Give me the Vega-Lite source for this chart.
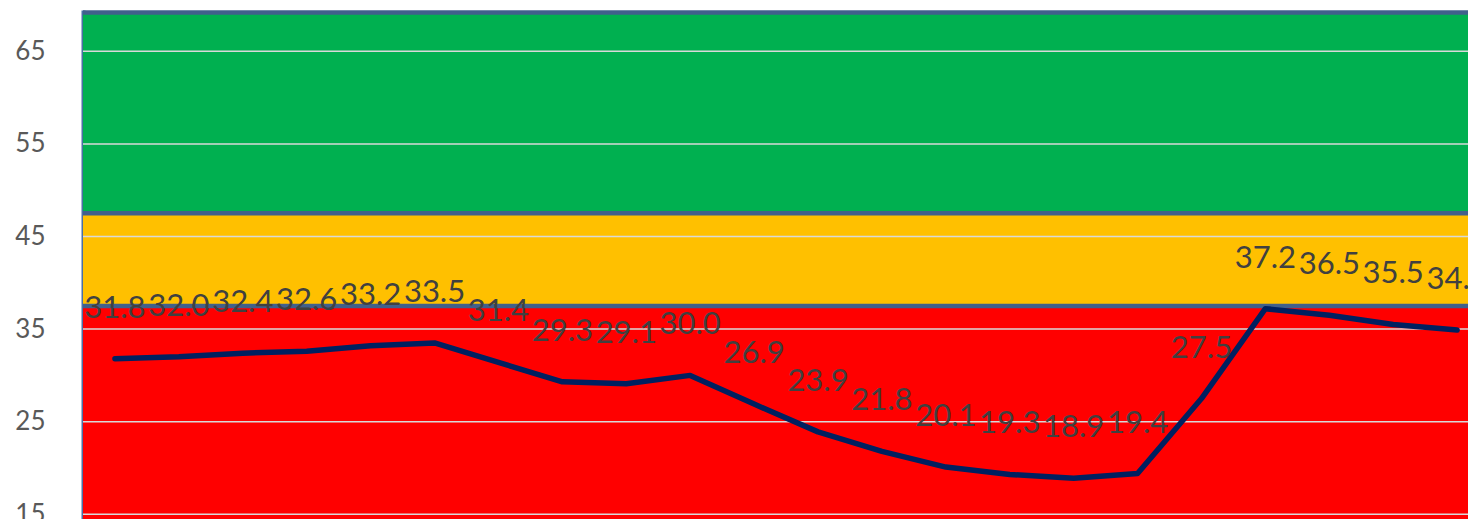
{
  "$schema": "https://vega.github.io/schema/vega-lite/v6.json",
  "width": 1385,
  "height": 509,
  "autosize": {"type": "none"},
  "padding": {"left": 83, "top": 10, "right": 0, "bottom": 0},
  "background": "white",
  "config": {"view": {"stroke": null}},
  "datasets": {
    "series": [
      {"i": 1, "v": 31.8}, {"i": 2, "v": 32.0}, {"i": 3, "v": 32.4}, {"i": 4, "v": 32.6},
      {"i": 5, "v": 33.2}, {"i": 6, "v": 33.5}, {"i": 7, "v": 31.4}, {"i": 8, "v": 29.3},
      {"i": 9, "v": 29.1}, {"i": 10, "v": 30.0}, {"i": 11, "v": 26.9}, {"i": 12, "v": 23.9},
      {"i": 13, "v": 21.8}, {"i": 14, "v": 20.1}, {"i": 15, "v": 19.3}, {"i": 16, "v": 18.9},
      {"i": 17, "v": 19.4}, {"i": 18, "v": 27.5}, {"i": 19, "v": 37.2}, {"i": 20, "v": 36.5},
      {"i": 21, "v": 35.5}, {"i": 22, "v": 34.9}
    ],
    "bands": [
      {"band": "Low", "lo": 0, "hi": 37.5},
      {"band": "Mid", "lo": 37.5, "hi": 47.5},
      {"band": "High", "lo": 47.5, "hi": 69.2}
    ],
    "grid": [{"g": 15}, {"g": 25}, {"g": 35}, {"g": 45}, {"g": 55}, {"g": 65}]
  },
  "layer": [
    {
      "data": {"name": "bands"},
      "mark": {"type": "rect", "clip": true},
      "encoding": {
        "y": {"field": "lo", "type": "quantitative",
              "scale": {"domain": [14.49, 69.46], "nice": false, "zero": false},
              "axis": {"values": [15, 25, 35, 45, 55, 65], "grid": false, "ticks": false, "tickSize": 0,
                       "domain": true, "domainColor": "#4A6FA5", "domainWidth": 4,
                       "labelFont": "Lato", "labelFontSize": 26, "labelColor": "#595959",
                       "labelPadding": 38, "title": null}},
        "y2": {"field": "hi"},
        "color": {"field": "band", "type": "nominal",
                  "scale": {"domain": ["Low", "Mid", "High"], "range": ["#FF0000", "#FFC000", "#00B050"]},
                  "legend": null}
      }
    },
    {
      "data": {"name": "grid"},
      "mark": {"type": "rule", "color": "#D9D9D9", "strokeWidth": 1.5},
      "encoding": {"y": {"field": "g", "type": "quantitative"}}
    },
    {
      "data": {"name": "bands"},
      "mark": {"type": "rule", "color": "#41608C", "strokeWidth": 4.5},
      "encoding": {"y": {"field": "hi", "type": "quantitative"}}
    },
    {
      "data": {"name": "series"},
      "mark": {"type": "line", "color": "#002060", "strokeWidth": 5.5, "strokeJoin": "round", "strokeCap": "round"},
      "encoding": {
        "x": {"field": "i", "type": "quantitative", "scale": {"domain": [0.5, 22.17], "nice": false, "zero": false}, "axis": null},
        "y": {"field": "v", "type": "quantitative"}
      }
    },
    {
      "data": {"name": "series"},
      "mark": {"type": "text", "font": "Lato", "fontSize": 31, "color": "#404040", "baseline": "middle", "align": "center", "dy": -50},
      "encoding": {
        "x": {"field": "i", "type": "quantitative"},
        "y": {"field": "v", "type": "quantitative"},
        "text": {"field": "v", "type": "quantitative", "format": ".1f"}
      }
    }
  ]
}
